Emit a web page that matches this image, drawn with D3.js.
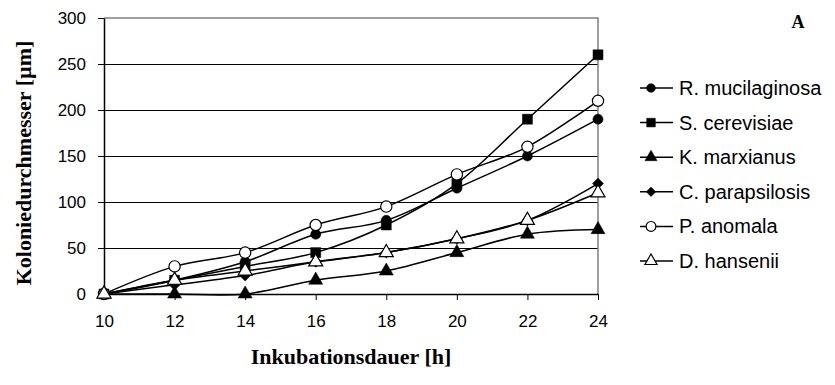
<!DOCTYPE html>
<html>
<head>
<meta charset="utf-8">
<script src="https://cdn.jsdelivr.net/npm/d3@7"></script>
<style>
  body { margin: 0; background: #ffffff; }
</style>
</head>
<body>
<div id="chart"></div>
<script>
let width = 835;
let height = 385;

let hours = [10, 12, 14, 16, 18, 20, 22, 24];
let yTicks = [0, 50, 100, 150, 200, 250, 300];

let speciesNames = ["R. mucilaginosa", "S. cerevisiae", "K. marxianus", "C. parapsilosis", "P. anomala", "D. hansenii"];
let rMucilaginosa = [0, 15, 35, 65, 80, 115, 150, 190];
let sCerevisiae = [0, 15, 30, 45, 75, 120, 190, 260];
let kMarxianus = [0, 0, 0, 15, 25, 45, 65, 70];
let cParapsilosis = [0, 10, 20, 35, 45, 60, 80, 120];
let pAnomala = [0, 30, 45, 75, 95, 130, 160, 210];
let dHansenii = [0, 15, 25, 35, 45, 60, 80, 110];

let seriesValues = [rMucilaginosa, sCerevisiae, kMarxianus, cParapsilosis, pAnomala, dHansenii];
// marker per series: symbol type, fill, area, rotation
let markers = [
  { type: d3.symbolCircle, fill: "#000", size: 80, rot: 0 },
  { type: d3.symbolSquare, fill: "#000", size: 100, rot: 0 },
  { type: d3.symbolTriangle, fill: "#000", size: 85, rot: 0 },
  { type: d3.symbolSquare, fill: "#000", size: 60, rot: 45 },
  { type: d3.symbolCircle, fill: "#fff", size: 100, rot: 0 },
  { type: d3.symbolTriangle, fill: "#fff", size: 85, rot: 0 }
];

let plot = { left: 104, right: 598, top: 18, bottom: 294 };

let svg = d3.select("#chart")
  .append("svg")
  .attr("width", width)
  .attr("height", height)
  .style("background-color", "#ffffff");

let xscale = d3.scaleLinear().domain([10, 24]).range([plot.left, plot.right]);
let yscale = d3.scaleLinear().domain([0, 300]).range([plot.bottom, plot.top]);

// horizontal gridlines
svg.append("g")
  .selectAll("line")
  .data(yTicks.filter(d => d > 0 && d < 300))
  .enter()
  .append("line")
  .attr("x1", plot.left)
  .attr("x2", plot.right)
  .attr("y1", d => yscale(d))
  .attr("y2", d => yscale(d))
  .attr("stroke", "#000")
  .attr("stroke-width", 1)
  .attr("shape-rendering", "crispEdges");

// grey plot border top / right
svg.append("path")
  .attr("d", `M${plot.left},${plot.top}H${plot.right}V${plot.bottom}`)
  .attr("fill", "none")
  .attr("stroke", "#808080")
  .attr("stroke-width", 1.5);

// axes
let yAxis = svg.append("g")
  .attr("transform", `translate(${plot.left},0)`)
  .call(d3.axisLeft(yscale).tickValues(yTicks).tickSize(6).tickPadding(12).tickSizeOuter(0));
yAxis.select(".domain").attr("stroke", "#000").attr("stroke-width", 1.5);
yAxis.selectAll(".tick line").attr("stroke", "#000").attr("stroke-width", 1);
yAxis.selectAll("text")
  .attr("font-family", "Liberation Sans, Arial, sans-serif")
  .attr("font-size", 17)
  .attr("fill", "#000");

let xAxis = svg.append("g")
  .attr("transform", `translate(0,${plot.bottom})`)
  .call(d3.axisBottom(xscale).tickValues(hours).tickSize(6).tickPadding(15).tickSizeOuter(0));
xAxis.select(".domain").attr("stroke", "#000").attr("stroke-width", 1.5);
xAxis.selectAll(".tick line").attr("stroke", "#000").attr("stroke-width", 1);
xAxis.selectAll("text")
  .attr("font-family", "Liberation Sans, Arial, sans-serif")
  .attr("font-size", 17)
  .attr("fill", "#000");

// axis titles
svg.append("text")
  .attr("x", 351)
  .attr("y", 364)
  .attr("text-anchor", "middle")
  .attr("font-family", "Liberation Serif, Times New Roman, serif")
  .attr("font-weight", "bold")
  .attr("font-size", 22)
  .text("Inkubationsdauer [h]");

svg.append("text")
  .attr("transform", `translate(31, 163) rotate(-90)`)
  .attr("text-anchor", "middle")
  .attr("font-family", "Liberation Serif, Times New Roman, serif")
  .attr("font-weight", "bold")
  .attr("font-size", 22)
  .text("Koloniedurchmesser [µm]");

svg.append("text")
  .attr("x", 798)
  .attr("y", 28)
  .attr("text-anchor", "middle")
  .attr("font-family", "Liberation Serif, Times New Roman, serif")
  .attr("font-weight", "bold")
  .attr("font-size", 18)
  .text("A");

// smoothed lines (Excel style)
let line = d3.line()
  .x((d, i) => xscale(hours[i]))
  .y(d => yscale(d))
  .curve(d3.curveCatmullRom.alpha(0));

let seriesG = svg.append("g")
  .selectAll("g")
  .data(seriesValues)
  .enter()
  .append("g");

seriesG.append("path")
  .attr("d", d => line(d))
  .attr("fill", "none")
  .attr("stroke", "#000")
  .attr("stroke-width", 1.5);

seriesG.each(function (vals, s) {
  let m = markers[s];
  d3.select(this)
    .selectAll("path.mark")
    .data(vals)
    .enter()
    .append("path")
    .attr("class", "mark")
    .attr("d", d3.symbol().type(m.type).size(m.size))
    .attr("transform", (d, i) => `translate(${xscale(hours[i])},${yscale(d)}) rotate(${m.rot})`)
    .attr("fill", m.fill)
    .attr("stroke", "#000")
    .attr("stroke-width", m.fill == "#fff" ? 1.2 : 0.5);
});

// legend
let legend = svg.append("g")
  .selectAll("g")
  .data(speciesNames)
  .enter()
  .append("g")
  .attr("transform", (d, i) => `translate(640, ${88 + i * 34.6})`);

legend.append("line")
  .attr("x1", 0)
  .attr("x2", 33)
  .attr("stroke", "#000")
  .attr("stroke-width", 1.5);

legend.append("path")
  .attr("d", (d, i) => d3.symbol().type(markers[i].type).size(markers[i].size * 0.75)())
  .attr("transform", (d, i) => `translate(11,0) rotate(${markers[i].rot})`)
  .attr("fill", (d, i) => markers[i].fill)
  .attr("stroke", "#000")
  .attr("stroke-width", (d, i) => markers[i].fill == "#fff" ? 1.2 : 0.5);

legend.append("text")
  .attr("x", 39)
  .attr("y", 0)
  .attr("dominant-baseline", "central")
  .attr("font-family", "Liberation Sans, Arial, sans-serif")
  .attr("font-size", 20)
  .text(d => d);
</script>
</body>
</html>
